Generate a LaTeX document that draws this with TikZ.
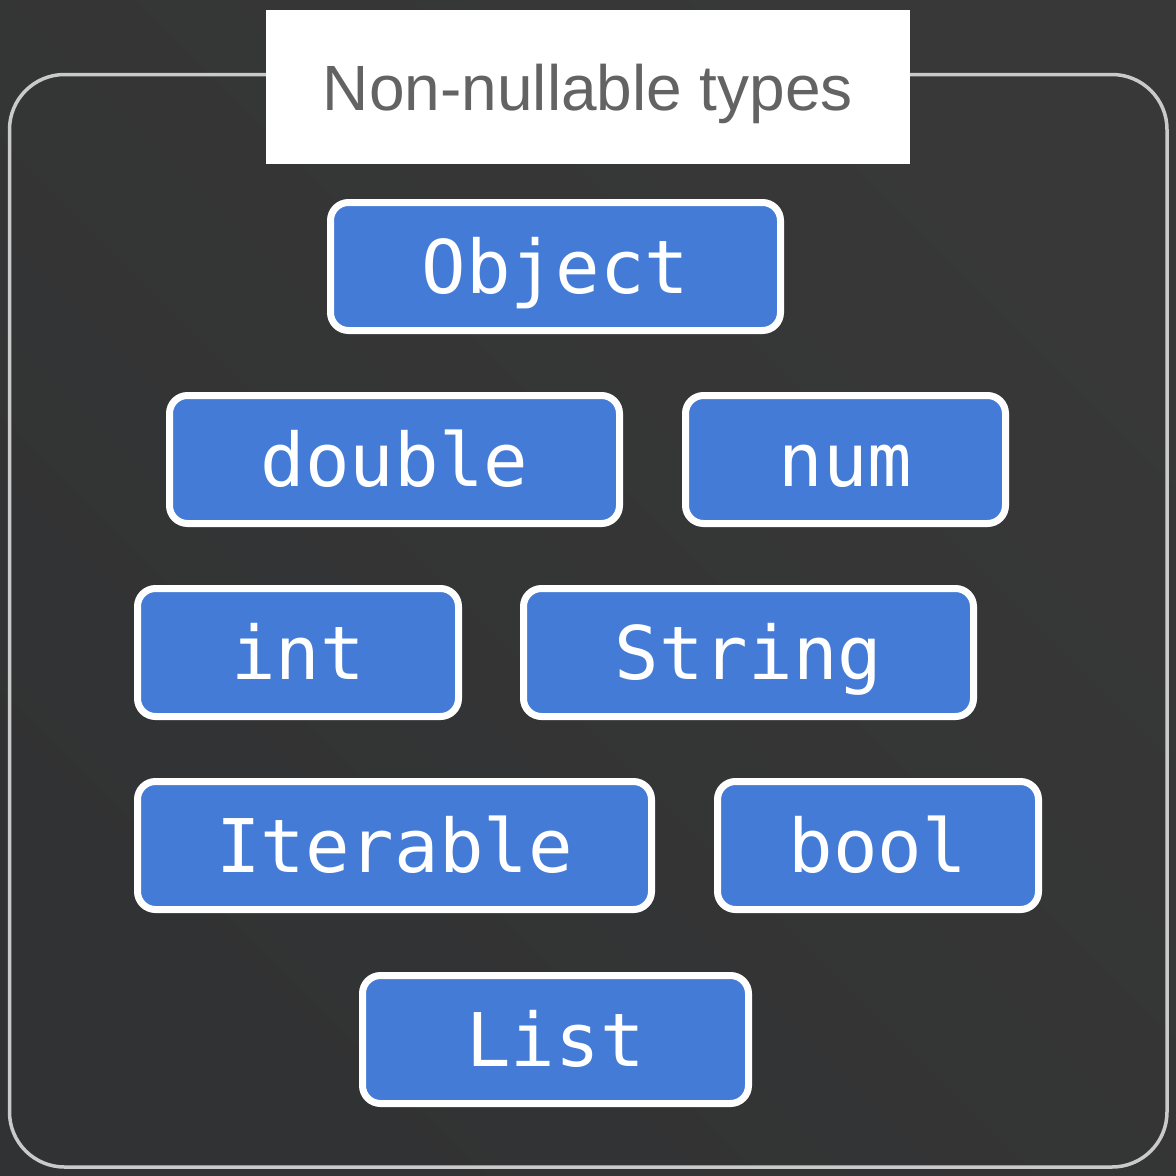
\documentclass[tikz,border=0pt]{standalone}
\usepackage{fontspec}
\setmainfont{Liberation Sans}
\newfontfamily\codefont{DejaVu Sans Mono}
\definecolor{bgdark}{HTML}{313233}
\definecolor{bgdark2}{HTML}{383838}
\definecolor{outline}{HTML}{CACACA}
\definecolor{boxblue}{HTML}{437BD6}
\definecolor{titlegrey}{HTML}{636363}
\tikzset{
  typebox/.style={draw=white, line width=7pt, fill=boxblue, rounded corners=18pt,
    minimum height=128pt, inner sep=0pt, text=white,
    font=\codefont\fontsize{74}{74}\selectfont, text height=53pt, text depth=0pt},
}
\begin{document}
\begin{tikzpicture}[x=1pt,y=-1pt]
\useasboundingbox (0,0) rectangle (1176,1176);
\shade[left color=bgdark, right color=bgdark2, shading angle=135] (0,0) rectangle (1176,1176);
\draw[outline, line width=3.5pt, rounded corners=55pt] (9.5,74.5) rectangle (1167,1167);
\node[fill=white, minimum width=644pt, minimum height=154pt, inner sep=0pt,
  text=titlegrey, font=\fontsize{64}{64}\selectfont, text height=46pt, text depth=0pt]
  (title) at (588,87) {Non-nullable types};
\node[typebox, minimum width=450pt] (object) at (555.5,266.5) {Object};
\node[typebox, minimum width=450pt] (double) at (394.5,459.5) {double};
\node[typebox, minimum width=320pt] (num) at (845.5,459.5) {num};
\node[typebox, minimum width=321pt] (int) at (298,652.5) {int};
\node[typebox, minimum width=450pt] (string) at (748.5,652.5) {String};
\node[typebox, minimum width=514pt] (iterable) at (394.5,845.5) {Iterable};
\node[typebox, minimum width=321pt] (bool) at (878,845.5) {bool};
\node[typebox, minimum width=386pt] (list) at (555.5,1039.5) {List};
\end{tikzpicture}
\end{document}
